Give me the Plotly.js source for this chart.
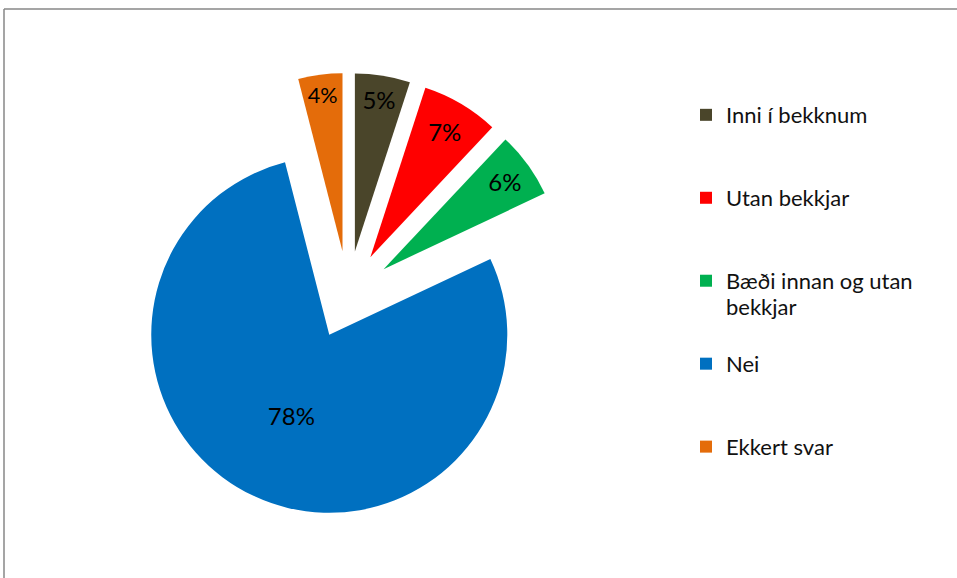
<!DOCTYPE html>
<html>
<head>
<meta charset="utf-8">
<script src="https://cdn.plot.ly/plotly-3.0.1.min.js"></script>
<style>
  html, body { margin: 0; padding: 0; background: #fff; }
  #chart { width: 957px; height: 578px; }
</style>
</head>
<body>
<div id="chart"></div>
<script>
// Data
const categories = ['Inni í bekknum', 'Utan bekkjar', 'Bæði innan og utan<br>bekkjar', 'Nei', 'Ekkert svar'];
const values = [5, 7, 6, 78, 4];
const colors = ['#4A452A', '#FF0000', '#00B050', '#0070C0', '#E46C0A'];

// Legend entries: slightly larger glyphs, padded to equal line count so entries are evenly spaced
const maxLines = 3;
const legendLabels = categories.map(c => {
  const lines = c.split('<br>');
  const styled = lines.map(l => '<span style="font-size:22px">' + l + '</span>').join('<br>');
  return styled + '<br> '.repeat(maxLines - lines.length);
});

const W = 957, H = 578;

const trace = {
  type: 'pie',
  labels: legendLabels,
  values: values,
  sort: false,
  direction: 'clockwise',
  rotation: 0,
  pull: values.map(() => 0.247),
  marker: { colors: colors, line: { width: 0 } },
  textinfo: 'percent',
  textposition: 'inside',
  insidetextorientation: 'horizontal',
  textfont: { family: 'Lato, sans-serif', size: 24, color: '#000' },
  hoverinfo: 'percent',
  domain: { x: [126 / W, 570 / W], y: [61 / H, 505 / H] }
};

const layout = {
  width: W,
  height: H,
  margin: { l: 0, r: 0, t: 0, b: 0 },
  paper_bgcolor: '#fff',
  showlegend: true,
  legend: {
    x: 686 / W,
    xanchor: 'left',
    y: (H - 95) / H,
    yanchor: 'top',
    valign: 'top',
    font: { family: 'Lato, sans-serif', size: 20.5, color: '#111' },
    bgcolor: 'rgba(0,0,0,0)'
  },
  shapes: [
    { type: 'line', xref: 'paper', yref: 'paper', x0: 4 / W, x1: 4 / W, y0: 0, y1: (H - 9) / H,
      line: { color: '#878787', width: 1.5 } },
    { type: 'line', xref: 'paper', yref: 'paper', x0: 4 / W, x1: 1, y0: (H - 9) / H, y1: (H - 9) / H,
      line: { color: '#878787', width: 1.5 } }
  ]
};

Plotly.newPlot('chart', [trace], layout, { displayModeBar: false, staticPlot: true });
</script>
</body>
</html>
